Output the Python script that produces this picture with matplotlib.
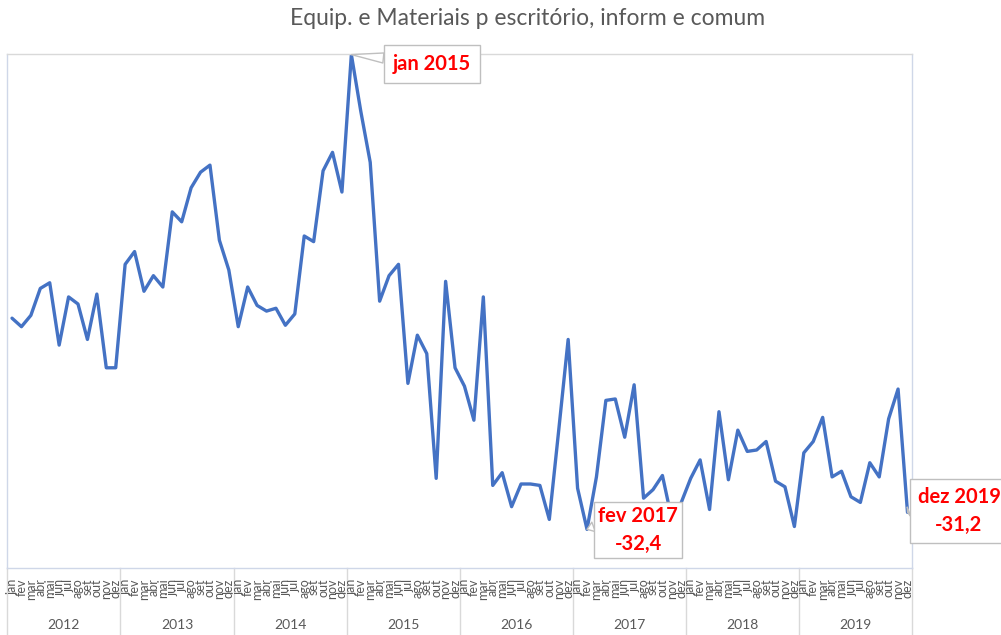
import matplotlib
matplotlib.use("Agg")
import matplotlib.pyplot as plt

# monthly values, jan 2012 .. dez 2019
years = ["2012", "2013", "2014", "2015", "2016", "2017", "2018", "2019"]
months = ["jan", "fev", "mar", "abr", "mai", "jun", "jul", "ago", "set", "out", "nov", "dez"]

v2012 = [-17.5, -18.1, -17.3, -15.4, -15.0, -19.4, -16.0, -16.5, -19.0, -15.8, -21.0, -21.0]
v2013 = [-13.7, -12.8, -15.6, -14.5, -15.3, -10.0, -10.7, -8.3, -7.2, -6.7, -12.0, -14.1]
v2014 = [-18.1, -15.3, -16.6, -17.0, -16.8, -18.0, -17.2, -11.7, -12.1, -7.1, -5.8, -8.6]
v2015 = [1.1, -2.9, -6.5, -16.3, -14.5, -13.7, -22.1, -18.7, -20.0, -28.8, -14.9, -21.0]
v2016 = [-22.3, -24.7, -16.0, -29.3, -28.4, -30.8, -29.2, -29.2, -29.3, -31.7, -25.4, -19.0]
v2017 = [-29.5, -32.4, -28.7, -23.3, -23.2, -25.9, -22.2, -30.2, -29.6, -28.6, -31.7, -30.5]
v2018 = [-28.8, -27.5, -31.0, -24.1, -28.9, -25.4, -26.9, -26.8, -26.2, -29.0, -29.4, -32.2]
v2019 = [-27.0, -26.2, -24.5, -28.7, -28.3, -30.1, -30.5, -27.7, -28.7, -24.6, -22.5, -31.2]

values = v2012 + v2013 + v2014 + v2015 + v2016 + v2017 + v2018 + v2019
labels = [m for y in years for m in months]

FONT = ["Lato", "DejaVu Sans"]
GREY = "#595959"
BLUE = "#4472C4"

fig = plt.figure(figsize=(10.01, 6.35), dpi=100)
ax = fig.add_axes([0.0073, 0.105, 0.904, 0.8095])

x = list(range(len(values)))
ax.plot(x, values, color=BLUE, lw=2.4, solid_joinstyle="round", solid_capstyle="round")
ax.set_xlim(-0.5, len(values) - 0.5)
ax.set_ylim(-35.15, 1.12)
ax.set_xticks([])
ax.set_yticks([])

ax.spines["top"].set_color("#d9d9d9")
for s in ["left", "right", "bottom"]:
    ax.spines[s].set_color("#cfd7e8")
for s in ax.spines.values():
    s.set_linewidth(1)

# two-level category axis
tr = ax.get_xaxis_transform()
for i, lab in enumerate(labels):
    ax.text(i, -0.02, lab, rotation=90, ha="center", va="top", transform=tr,
            fontsize=9, color=GREY, family=FONT)
for k, yr in enumerate(years):
    ax.text(k * 12 + 5.5, -0.11, yr, ha="center", va="center", transform=tr,
            fontsize=10, color=GREY, family=FONT)
for k in range(len(years) + 1):
    xb = k * 12 - 0.5
    ax.plot([xb, xb], [0, -0.135], transform=tr, clip_on=False, color="#d9d9d9", lw=1)

fig.text(0.527, 0.971, "Equip. e Materiais p escritório, inform e comum",
         ha="center", va="center", fontsize=16.5, color=GREY, family=FONT)

# callouts
def callout(idx, text, pos, pad, rel):
    ax.annotate(text, xy=(idx, values[idx]), xycoords="data",
                xytext=pos, textcoords="figure pixels",
                ha="center", va="center", fontsize=14.5, fontweight="bold",
                color="#ff0000", family=FONT, linespacing=1.5,
                bbox=dict(boxstyle="square,pad=%s" % pad, fc="white", ec="#bfbfbf", lw=1),
                arrowprops=dict(arrowstyle="wedge,tail_width=0.5,shrink_factor=0.5",
                                fc="white", ec="#bfbfbf", lw=1, relpos=rel,
                                shrinkA=0, shrinkB=0),
                annotation_clip=False)

callout(36, "jan 2015", (432, 635 - 64), 0.45, (0, 0.75))
callout(61, "fev 2017\n-32,4", (638, 635 - 530), 0.2, (0, 0.6))
callout(95, "dez 2019\n-31,2", (959, 635 - 511), 0.4, (0, 0.55))

fig.savefig("out.png", dpi=100)
